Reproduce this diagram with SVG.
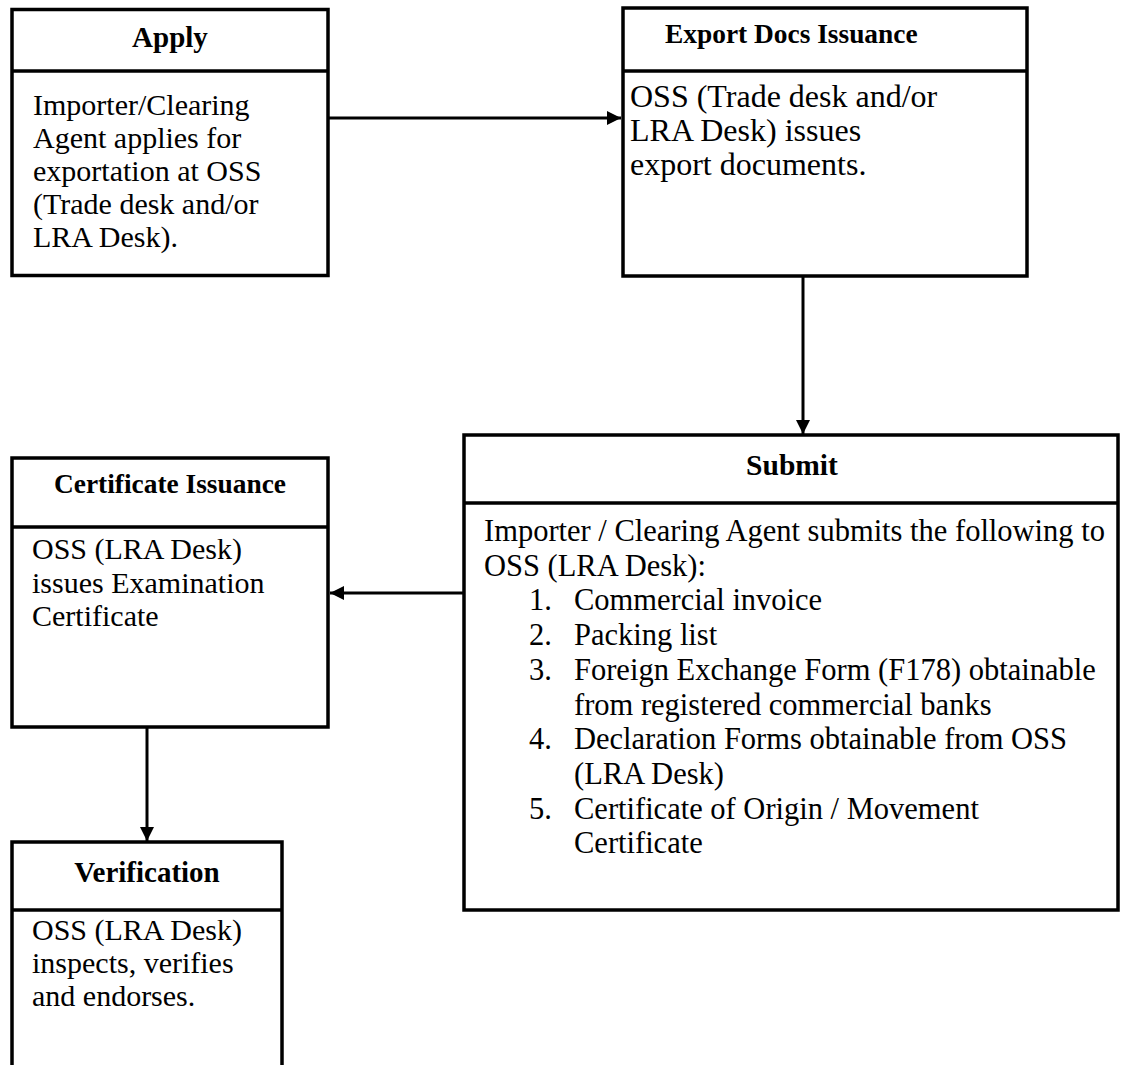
<svg xmlns="http://www.w3.org/2000/svg" width="1121" height="1065" viewBox="0 0 1121 1065">
<defs>
<style>
.box{fill:#fff;stroke:#000;stroke-width:3.5}
.div{stroke:#000;stroke-width:3.5}
.t{font-family:"Liberation Serif","Times New Roman",serif;font-weight:bold;fill:#000;text-anchor:middle}
.b{font-family:"Liberation Serif","Times New Roman",serif;fill:#000}
.c{stroke:#000;stroke-width:3;fill:none;marker-end:url(#ah)}
</style>
<marker id="ah" markerUnits="userSpaceOnUse" markerWidth="14" markerHeight="14" refX="14" refY="7" orient="auto" viewBox="0 0 14 14">
<path d="M0,0 L14,7 L0,14 z" fill="#000"/>
</marker>
</defs>
<rect width="1121" height="1065" fill="#fff"/>
<g id="connectors">
<line class="c" x1="328" y1="118" x2="621" y2="118"/>
<line class="c" x1="803" y1="276" x2="803" y2="434"/>
<line class="c" x1="463" y1="593" x2="330" y2="593"/>
<line class="c" x1="147" y1="727" x2="147" y2="841"/>
</g>
<g id="apply">
<rect class="box" x="12" y="9.5" width="316" height="266"/>
<line class="div" x1="12" y1="71" x2="328" y2="71"/>
<text class="t" x="170" y="47" font-size="29">Apply</text>
<text class="b" font-size="30"><tspan x="33" y="115">Importer/Clearing</tspan><tspan x="33" y="148">Agent applies for</tspan><tspan x="33" y="181">exportation at OSS</tspan><tspan x="33" y="214">(Trade desk and/or</tspan><tspan x="33" y="247">LRA Desk).</tspan></text>
</g>
<g id="export">
<rect class="box" x="623" y="8" width="404" height="268"/>
<line class="div" x1="623" y1="71" x2="1027" y2="71"/>
<text class="b" x="665" y="43" font-size="27.4" font-weight="bold">Export Docs Issuance</text>
<text class="b" font-size="32"><tspan x="630" y="107">OSS (Trade desk and/or</tspan><tspan x="630" y="141">LRA Desk) issues</tspan><tspan x="630" y="175">export documents.</tspan></text>
</g>
<g id="submit">
<rect class="box" x="464" y="435" width="654" height="475"/>
<line class="div" x1="464" y1="503" x2="1118" y2="503"/>
<text class="t" x="792" y="475" font-size="29.5">Submit</text>
<text class="b" font-size="30.5"><tspan x="484" y="541">Importer / Clearing Agent submits the following to</tspan><tspan x="484" y="575.7">OSS (LRA Desk):</tspan></text>
<text class="b" font-size="30.5"><tspan x="529" y="610.4">1.</tspan><tspan x="529" y="645.1">2.</tspan><tspan x="529" y="679.8">3.</tspan><tspan x="529" y="749.2">4.</tspan><tspan x="529" y="818.6">5.</tspan></text>
<text class="b" font-size="30.5"><tspan x="574" y="610.4">Commercial invoice</tspan><tspan x="574" y="645.1">Packing list</tspan><tspan x="574" y="679.8">Foreign Exchange Form (F178) obtainable</tspan><tspan x="574" y="714.5">from registered commercial banks</tspan><tspan x="574" y="749.2">Declaration Forms obtainable from OSS</tspan><tspan x="574" y="783.9">(LRA Desk)</tspan><tspan x="574" y="818.6">Certificate of Origin / Movement</tspan><tspan x="574" y="853.3">Certificate</tspan></text>
</g>
<g id="certificate">
<rect class="box" x="12" y="458" width="316" height="269"/>
<line class="div" x1="12" y1="527" x2="328" y2="527"/>
<text class="t" x="170" y="493" font-size="27.4">Certificate Issuance</text>
<text class="b" font-size="30"><tspan x="32" y="559">OSS (LRA Desk)</tspan><tspan x="32" y="592.5">issues Examination</tspan><tspan x="32" y="626">Certificate</tspan></text>
</g>
<g id="verification">
<rect class="box" x="12" y="842" width="270" height="260"/>
<line class="div" x1="12" y1="910" x2="282" y2="910"/>
<text class="t" x="147" y="882" font-size="29">Verification</text>
<text class="b" font-size="30"><tspan x="32" y="940">OSS (LRA Desk)</tspan><tspan x="32" y="973">inspects, verifies</tspan><tspan x="32" y="1006">and endorses.</tspan></text>
</g>
</svg>
